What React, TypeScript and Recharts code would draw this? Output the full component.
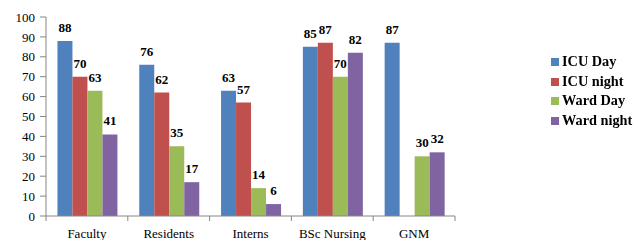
import React from 'react';
import { BarChart, Bar, XAxis, YAxis, Legend, LabelList } from 'recharts';

const categories = ['Faculty', 'Residents', 'Interns', 'BSc Nursing', 'GNM'];
const icuDay = [88, 76, 63, 85, 87];
const icuNight: (number | null)[] = [70, 62, 57, 87, null];
const wardDay = [63, 35, 14, 70, 30];
const wardNight = [41, 17, 6, 82, 32];
const yTicks = [0, 10, 20, 30, 40, 50, 60, 70, 80, 90, 100];

const seriesInfo = [
  { key: 'icuDay', name: 'ICU Day', color: '#4F81BD' },
  { key: 'icuNight', name: 'ICU night', color: '#C0504D' },
  { key: 'wardDay', name: 'Ward Day', color: '#9BBB59' },
  { key: 'wardNight', name: 'Ward night', color: '#8064A2' },
];

const data = categories.map((name, i) => ({
  name,
  icuDay: icuDay[i],
  icuNight: icuNight[i],
  wardDay: wardDay[i],
  wardNight: wardNight[i],
}));

const FONT = '"Liberation Serif", "Times New Roman", serif';
const AXIS = '#868686';
const TICK_GAP = 13;

// category label plus the little tick marks on the band edges
function CategoryTick(props: any) {
  const { x, y, payload, index } = props;
  const half = payload?.offset ?? 0;
  const axisY = y - TICK_GAP;
  return (
    <g>
      <line x1={x - half} x2={x - half} y1={axisY} y2={axisY + 5} stroke={AXIS} />
      {index === categories.length - 1 && (
        <line x1={x + half} x2={x + half} y1={axisY} y2={axisY + 5} stroke={AXIS} />
      )}
      <text x={x} y={y} dy='0.71em' textAnchor='middle' fontFamily={FONT} fontSize={13} fill='#000'>
        {payload.value}
      </text>
    </g>
  );
}

function LegendBox() {
  return (
    <div style={{ fontFamily: FONT, fontWeight: 'bold', fontSize: 14.3, color: '#000', lineHeight: '19.7px' }}>
      {seriesInfo.map((s) => (
        <div key={s.key} style={{ display: 'flex', alignItems: 'center', height: 19.7 }}>
          <span style={{ width: 8, height: 8, background: s.color, marginRight: 3, display: 'inline-block' }} />
          <span>{s.name}</span>
        </div>
      ))}
    </div>
  );
}

export default function App() {
  return (
    <div style={{ position: 'fixed', left: 0, top: 0, width: 644, height: 240, background: '#fff' }}>
      <BarChart
        width={644}
        height={240}
        data={data}
        margin={{ top: 17, right: 94, left: 0, bottom: 0 }}
        barCategoryGap='14%'
        barGap={0}
      >
        <XAxis
          dataKey='name'
          height={24}
          axisLine={{ stroke: AXIS }}
          tickLine={false}
          tickSize={0}
          tickMargin={TICK_GAP}
          tick={<CategoryTick />}
          interval={0}
        />
        <YAxis
          width={46}
          domain={[0, 100]}
          ticks={yTicks}
          interval={0}
          axisLine={{ stroke: AXIS }}
          tickLine={{ stroke: AXIS }}
          tickSize={6}
          tickMargin={5}
          tick={{ fontFamily: FONT, fontSize: 13, fill: '#000' }}
        />
        <Legend
          layout='vertical'
          verticalAlign='top'
          align='right'
          content={<LegendBox />}
          wrapperStyle={{ position: 'absolute', left: 551, top: 52, width: 95 }}
        />
        {seriesInfo.map((s) => (
          <Bar key={s.key} dataKey={s.key} name={s.name} fill={s.color} isAnimationActive={false}>
            <LabelList
              dataKey={s.key}
              position='top'
              offset={9}
              formatter={(v: any) => (v == null ? '' : v)}
              style={{ fontFamily: FONT, fontSize: 13, fontWeight: 'bold', fill: '#000' }}
            />
          </Bar>
        ))}
      </BarChart>
    </div>
  );
}
